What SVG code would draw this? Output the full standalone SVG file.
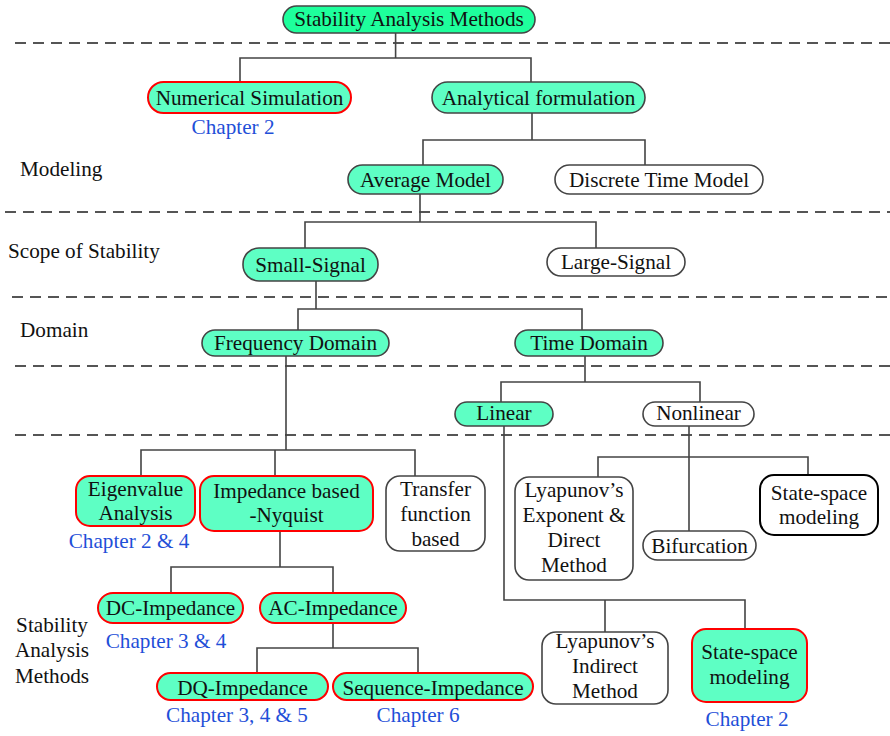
<svg xmlns="http://www.w3.org/2000/svg" width="890" height="736" viewBox="0 0 890 736">
<style>
text{font-family:"Liberation Serif","Times New Roman",serif;font-size:21.2px;fill:#111;text-anchor:middle}
.lbl{text-anchor:start}
.ch{fill:#1f4fd8}
.g{fill:#5effc4;stroke:#444;stroke-width:1.6}
.top{fill:#1eff9c;stroke:#444;stroke-width:1.6}
.r{fill:#5effc4;stroke:#ff0000;stroke-width:2}
.w{fill:#fff;stroke:#444;stroke-width:1.6}
.k{fill:#fff;stroke:#000;stroke-width:2}
.dash{stroke:#555;stroke-width:1.8;stroke-dasharray:11 7;fill:none}
#connectors path{fill:none;stroke:#444;stroke-width:1.6}
</style>
<rect width="890" height="736" fill="#fff"/>
<g id="separators">
<line class="dash" x1="15" y1="43" x2="890" y2="43"/>
<line class="dash" x1="5" y1="212" x2="890" y2="212"/>
<line class="dash" x1="12" y1="297" x2="890" y2="297"/>
<line class="dash" x1="15" y1="366" x2="890" y2="366"/>
<line class="dash" x1="15" y1="435" x2="890" y2="435"/>
</g>
<g id="connectors">
<path d="M395.6 33V58M240 82V58H531V82"/>
<path d="M532 113V140M423 165V140H645V165"/>
<path d="M420 194V222M305 248V222H596V248"/>
<path d="M316 281V309M298 330V309H582V330"/>
<path d="M286 356V450M141 476V450H415V476M275 450V476"/>
<path d="M585 356V382M501 402V382H700V402"/>
<path d="M504 426V600H745V629M605 600V632"/>
<path d="M689 426V457M598 477V457H808V475M689 457V531"/>
<path d="M280 531V567M171 593V567H333V593"/>
<path d="M333 623V648M257 673V648H418V673"/>
</g>
<g id="labels">
<text class="lbl" x="20" y="176">Modeling</text>
<text class="lbl" x="8" y="258">Scope of Stability</text>
<text class="lbl" x="20" y="337">Domain</text>
<text x="52" y="632">Stability</text>
<text x="52" y="657">Analysis</text>
<text x="52" y="683">Methods</text>
</g>
<g id="n-top"><rect class="top" x="283" y="6" width="252" height="27" rx="13.5"/><text x="409" y="26">Stability Analysis Methods</text></g>
<g id="n-numerical"><rect class="r" x="148" y="82" width="203" height="31" rx="15.5"/><text x="249.5" y="105">Numerical Simulation</text><text class="ch" x="233" y="134">Chapter 2</text></g>
<g id="n-analytical"><rect class="g" x="432" y="82" width="213" height="31" rx="15.5"/><text x="538.5" y="105">Analytical formulation</text></g>
<g id="n-average"><rect class="g" x="348" y="165" width="155" height="29" rx="14.5"/><text x="425.5" y="187">Average Model</text></g>
<g id="n-discrete"><rect class="w" x="555" y="165" width="208" height="29" rx="14.5"/><text x="659" y="187">Discrete Time Model</text></g>
<g id="n-small"><rect class="g" x="243" y="248" width="135" height="33" rx="16"/><text x="310.5" y="272">Small-Signal</text></g>
<g id="n-large"><rect class="w" x="547" y="248" width="138" height="28" rx="14"/><text x="616" y="269">Large-Signal</text></g>
<g id="n-freq"><rect class="g" x="202" y="330" width="187" height="26" rx="13"/><text x="295.5" y="350">Frequency Domain</text></g>
<g id="n-time"><rect class="g" x="515" y="330" width="148" height="26" rx="13"/><text x="589" y="350">Time Domain</text></g>
<g id="n-linear"><rect class="g" x="455" y="402" width="98" height="24" rx="12"/><text x="504" y="420">Linear</text></g>
<g id="n-nonlinear"><rect class="w" x="643" y="402" width="111" height="24" rx="12"/><text x="698.5" y="420">Nonlinear</text></g>
<g id="n-eigen"><rect class="r" x="76" y="476" width="119" height="50" rx="14"/><text x="135.5" y="496">Eigenvalue</text><text x="135.5" y="520">Analysis</text><text class="ch" x="129" y="548">Chapter 2 &amp; 4</text></g>
<g id="n-impedance"><rect class="r" x="200" y="476" width="173" height="55" rx="14"/><text x="286.5" y="498">Impedance based</text><text x="286.5" y="522">-Nyquist</text></g>
<g id="n-transfer"><rect class="w" x="386" y="476" width="99" height="75" rx="14"/><text x="435.5" y="496">Transfer</text><text x="435.5" y="521">function</text><text x="435.5" y="546">based</text></g>
<g id="n-dc"><rect class="r" x="98" y="593" width="145" height="30" rx="15"/><text x="170.5" y="615">DC-Impedance</text><text class="ch" x="166" y="648">Chapter 3 &amp; 4</text></g>
<g id="n-ac"><rect class="r" x="260" y="593" width="146" height="30" rx="15"/><text x="333" y="615">AC-Impedance</text></g>
<g id="n-dq"><rect class="r" x="157" y="673" width="171" height="27" rx="13.5"/><text x="242.5" y="695">DQ-Impedance</text><text class="ch" x="237" y="722">Chapter 3, 4 &amp; 5</text></g>
<g id="n-seq"><rect class="r" x="333" y="673" width="200" height="27" rx="13.5"/><text x="433" y="695">Sequence-Impedance</text><text class="ch" x="418" y="722">Chapter 6</text></g>
<g id="n-lyap-exp"><rect class="w" x="515" y="477" width="118" height="103" rx="14"/><text x="574" y="497">Lyapunov’s</text><text x="574" y="522">Exponent &amp;</text><text x="574" y="547">Direct</text><text x="574" y="572">Method</text></g>
<g id="n-bifurcation"><rect class="w" x="643" y="531" width="113" height="29" rx="14.5"/><text x="699.5" y="553">Bifurcation</text></g>
<g id="n-ss-top"><rect class="k" x="760" y="475" width="118" height="60" rx="14"/><text x="819" y="500">State-space</text><text x="819" y="524">modeling</text></g>
<g id="n-lyap-ind"><rect class="w" x="542" y="632" width="126" height="72" rx="14"/><text x="605" y="648">Lyapunov’s</text><text x="605" y="673">Indirect</text><text x="605" y="698">Method</text></g>
<g id="n-ss-bottom"><rect class="r" x="692" y="629" width="115" height="73" rx="14"/><text x="749.5" y="659">State-space</text><text x="749.5" y="684">modeling</text><text class="ch" x="747" y="726">Chapter 2</text></g>
</svg>
